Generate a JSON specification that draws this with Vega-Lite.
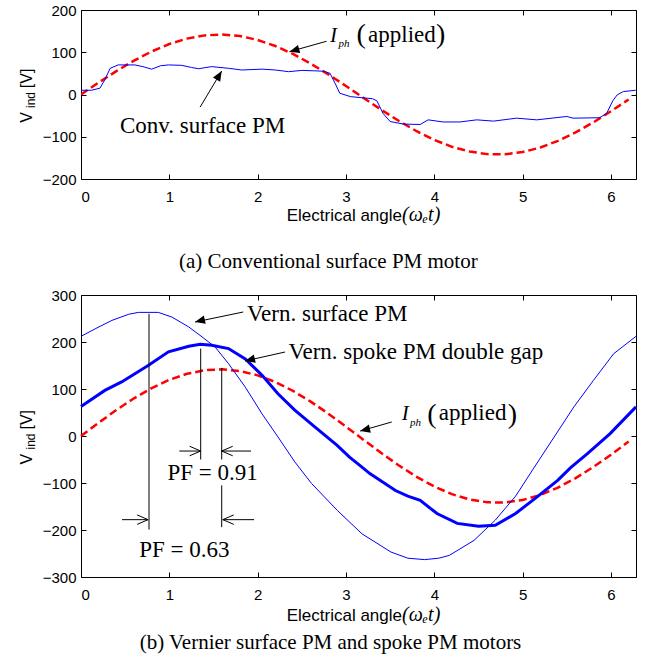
{
  "$schema": "https://vega.github.io/schema/vega-lite/v6.json",
  "background": "white",
  "padding": {"left": 18, "top": 3, "right": 5, "bottom": 0},
  "spacing": 16,
  "config": {
    "view": {"stroke": null},
    "axis": {"labelFont": "Liberation Sans", "labelFontSize": 15, "labelColor": "#000", "domainColor": "#000", "domainWidth": 1, "tickColor": "#000", "tickSize": -5, "tickWidth": 1, "grid": false}
  },
  "datasets": {
    "lines": [
      {"s":"iph","x":0,"y":0},{"s":"iph","x":0.2,"y":28.2},{"s":"iph","x":0.4,"y":55.3},{"s":"iph","x":0.6,"y":80.2},{"s":"iph","x":0.8,"y":101.9},{"s":"iph","x":1.0,"y":119.5},{"s":"iph","x":1.2,"y":132.3},{"s":"iph","x":1.4,"y":139.9},{"s":"iph","x":1.6,"y":141.9},{"s":"iph","x":1.8,"y":138.3},{"s":"iph","x":2.0,"y":129.1},{"s":"iph","x":2.2,"y":114.8},{"s":"iph","x":2.4,"y":95.9},{"s":"iph","x":2.6,"y":73.2},{"s":"iph","x":2.8,"y":47.6},{"s":"iph","x":3.0,"y":20.0},{"s":"iph","x":3.2,"y":-8.3},{"s":"iph","x":3.4,"y":-36.3},{"s":"iph","x":3.6,"y":-62.8},{"s":"iph","x":3.8,"y":-86.9},{"s":"iph","x":4.0,"y":-107.5},{"s":"iph","x":4.2,"y":-123.8},{"s":"iph","x":4.4,"y":-135.1},{"s":"iph","x":4.6,"y":-141.1},{"s":"iph","x":4.8,"y":-141.5},{"s":"iph","x":5.0,"y":-136.2},{"s":"iph","x":5.2,"y":-125.5},{"s":"iph","x":5.4,"y":-109.7},{"s":"iph","x":5.6,"y":-89.6},{"s":"iph","x":5.8,"y":-66.0},{"s":"iph","x":6.0,"y":-39.7},{"s":"iph","x":6.2,"y":-11.8},
      {"s":"conv","x":0,"y":10},{"s":"conv","x":0.12,"y":10},{"s":"conv","x":0.215,"y":15},{"s":"conv","x":0.27,"y":35},{"s":"conv","x":0.33,"y":62},{"s":"conv","x":0.42,"y":70},{"s":"conv","x":0.61,"y":70},{"s":"conv","x":0.7,"y":66},{"s":"conv","x":0.8,"y":60},{"s":"conv","x":0.9,"y":68},{"s":"conv","x":0.99,"y":70},{"s":"conv","x":1.14,"y":69},{"s":"conv","x":1.25,"y":64},{"s":"conv","x":1.33,"y":61},{"s":"conv","x":1.48,"y":66},{"s":"conv","x":1.67,"y":62},{"s":"conv","x":1.82,"y":58},{"s":"conv","x":2.05,"y":60},{"s":"conv","x":2.2,"y":58},{"s":"conv","x":2.35,"y":54},{"s":"conv","x":2.5,"y":57},{"s":"conv","x":2.65,"y":56},{"s":"conv","x":2.75,"y":55},{"s":"conv","x":2.82,"y":50},{"s":"conv","x":2.88,"y":25},{"s":"conv","x":2.93,"y":3},{"s":"conv","x":3.05,"y":-5},{"s":"conv","x":3.2,"y":-8},{"s":"conv","x":3.3,"y":-10},{"s":"conv","x":3.35,"y":-15},{"s":"conv","x":3.42,"y":-45},{"s":"conv","x":3.5,"y":-64},{"s":"conv","x":3.65,"y":-70},{"s":"conv","x":3.84,"y":-71},{"s":"conv","x":3.93,"y":-60},{"s":"conv","x":4.1,"y":-65},{"s":"conv","x":4.29,"y":-65},{"s":"conv","x":4.48,"y":-60},{"s":"conv","x":4.67,"y":-63},{"s":"conv","x":4.93,"y":-56},{"s":"conv","x":5.16,"y":-60},{"s":"conv","x":5.5,"y":-52},{"s":"conv","x":5.57,"y":-56},{"s":"conv","x":5.87,"y":-55},{"s":"conv","x":5.95,"y":-45},{"s":"conv","x":6.02,"y":-15},{"s":"conv","x":6.07,"y":-1},{"s":"conv","x":6.14,"y":7},{"s":"conv","x":6.28,"y":10},
      {"s":"surf","x":0,"y":212},{"s":"surf","x":0.16,"y":228},{"s":"surf","x":0.35,"y":246},{"s":"surf","x":0.54,"y":259},{"s":"surf","x":0.65,"y":263},{"s":"surf","x":0.875,"y":263},{"s":"surf","x":1.03,"y":253},{"s":"surf","x":1.22,"y":232},{"s":"surf","x":1.37,"y":211},{"s":"surf","x":1.52,"y":189},{"s":"surf","x":1.67,"y":154},{"s":"surf","x":1.86,"y":104},{"s":"surf","x":2.05,"y":47},{"s":"surf","x":2.23,"y":-2},{"s":"surf","x":2.42,"y":-55},{"s":"surf","x":2.61,"y":-101},{"s":"surf","x":2.9,"y":-158},{"s":"surf","x":3.18,"y":-208},{"s":"surf","x":3.51,"y":-247},{"s":"surf","x":3.7,"y":-260},{"s":"surf","x":3.89,"y":-263},{"s":"surf","x":4.05,"y":-260},{"s":"surf","x":4.17,"y":-254},{"s":"surf","x":4.45,"y":-222},{"s":"surf","x":4.69,"y":-179},{"s":"surf","x":4.92,"y":-128},{"s":"surf","x":5.12,"y":-70},{"s":"surf","x":5.35,"y":-4},{"s":"surf","x":5.58,"y":62},{"s":"surf","x":5.8,"y":118},{"s":"surf","x":6.03,"y":175},{"s":"surf","x":6.283,"y":212},
      {"s":"spoke","x":0,"y":63},{"s":"spoke","x":0.27,"y":97},{"s":"spoke","x":0.46,"y":115},{"s":"spoke","x":0.76,"y":150},{"s":"spoke","x":0.99,"y":179},{"s":"spoke","x":1.22,"y":191},{"s":"spoke","x":1.35,"y":195},{"s":"spoke","x":1.48,"y":193},{"s":"spoke","x":1.67,"y":186},{"s":"spoke","x":1.86,"y":164},{"s":"spoke","x":2.05,"y":129},{"s":"spoke","x":2.23,"y":90},{"s":"spoke","x":2.42,"y":55},{"s":"spoke","x":2.65,"y":19},{"s":"spoke","x":2.9,"y":-20},{"s":"spoke","x":3.04,"y":-45},{"s":"spoke","x":3.16,"y":-63},{"s":"spoke","x":3.27,"y":-80},{"s":"spoke","x":3.56,"y":-116},{"s":"spoke","x":3.7,"y":-128},{"s":"spoke","x":3.84,"y":-137},{"s":"spoke","x":4.03,"y":-165},{"s":"spoke","x":4.26,"y":-186},{"s":"spoke","x":4.5,"y":-192},{"s":"spoke","x":4.69,"y":-190},{"s":"spoke","x":4.92,"y":-165},{"s":"spoke","x":5.16,"y":-130},{"s":"spoke","x":5.4,"y":-94},{"s":"spoke","x":5.54,"y":-68},{"s":"spoke","x":5.73,"y":-38},{"s":"spoke","x":5.99,"y":5},{"s":"spoke","x":6.283,"y":62}
    ],
    "arrows": [
      {"p":"a","id":"conv","x":1.348,"y":-30,"x2":1.593,"y2":55.6},
      {"p":"a","id":"iphA","x":2.78,"y":126,"x2":2.36,"y2":101.4},
      {"p":"b","id":"lab","x":1.837,"y":263.8,"x2":1.291,"y2":242.5},
      {"p":"b","id":"lab","x":2.31,"y":178.7,"x2":1.857,"y2":159.6},
      {"p":"b","id":"lab","x":3.518,"y":29.8,"x2":3.16,"y2":10.6},
      {"p":"b","id":"pfR","x":1.113,"y":-32,"x2":1.355,"y2":-32},
      {"p":"b","id":"pfL","x":1.925,"y":-32,"x2":1.593,"y2":-32},
      {"p":"b","id":"pfR","x":0.465,"y":-178,"x2":0.76,"y2":-178},
      {"p":"b","id":"pfL","x":1.96,"y":-178,"x2":1.605,"y2":-178}
    ],
    "vlines": [
      {"x":0.77,"y":260,"y2":-199},
      {"x":1.355,"y":186,"y2":-50},
      {"x":1.593,"y":145,"y2":-50},
      {"x":1.593,"y":-105,"y2":-194}
    ],
    "labels": [
      {"p":"a","k":"sc","t":"Conv. surface PM","x":1.376,"y":-90},
      {"p":"a","k":"it","t":"I","x":2.82,"y":125},
      {"p":"a","k":"sub","t":"ph","x":2.914,"y":113},
      {"p":"a","k":"par","t":"(","x":3.12,"y":121},
      {"p":"a","k":"sl","t":"applied","x":3.25,"y":125},
      {"p":"a","k":"par","t":")","x":4.02,"y":121},
      {"p":"a","k":"yt","t":"V","x":-0.555,"y":-67},
      {"p":"a","k":"ysub","t":"ind","x":-0.521,"y":-32},
      {"p":"a","k":"yt","t":"[V]","x":-0.555,"y":15},
      {"p":"a","k":"xt","t":"Electrical angle","x":2.329,"y":-299},
      {"p":"a","k":"xit","t":"(ωₑt)","x":3.635,"y":-299},
      {"p":"b","k":"sl","t":"Vern. surface PM","x":1.88,"y":244},
      {"p":"b","k":"sl","t":"Vern. spoke PM double gap","x":2.348,"y":164.5},
      {"p":"b","k":"sc","t":"PF = 0.91","x":1.49,"y":-93},
      {"p":"b","k":"sc","t":"PF = 0.63","x":1.17,"y":-257},
      {"p":"b","k":"it","t":"I","x":3.63,"y":33},
      {"p":"b","k":"sub","t":"ph","x":3.726,"y":21},
      {"p":"b","k":"par","t":"(","x":3.92,"y":28},
      {"p":"b","k":"sl","t":"applied","x":4.05,"y":33},
      {"p":"b","k":"par","t":")","x":4.83,"y":28},
      {"p":"b","k":"yt","t":"V","x":-0.555,"y":-60.6},
      {"p":"b","k":"ysub","t":"ind","x":-0.521,"y":-28.7},
      {"p":"b","k":"yt","t":"[V]","x":-0.555,"y":13.8},
      {"p":"b","k":"xt","t":"Electrical angle","x":2.329,"y":-394},
      {"p":"b","k":"xit","t":"(ωₑt)","x":3.635,"y":-394}
    ]
  },
  "vconcat": [
    {
      "width": 555, "height": 169,
      "title": {"text": "(a) Conventional surface PM motor", "orient": "bottom", "font": "Liberation Serif", "fontSize": 21, "fontWeight": "normal", "color": "#000", "anchor": "middle", "frame": "bounds", "offset": 26},
      "resolve": {"axis": {"x": "independent", "y": "independent"}},
      "layer": [
        {"data": {"name": "lines"}, "transform": [{"filter": "datum.s == 'iph'"}],
         "mark": {"type": "line", "color": "#ff0000", "strokeWidth": 2.5, "strokeDash": [8, 4], "clip": true},
         "encoding": {
           "x": {"field": "x", "type": "quantitative", "scale": {"domain": [0, 6.2832], "nice": false, "zero": false}, "axis": {"orient": "bottom", "values": [0,1,2,3,4,5,6], "title": null, "labelPadding": 15}},
           "y": {"field": "y", "type": "quantitative", "scale": {"domain": [-200, 200], "nice": false}, "axis": {"orient": "left", "values": [-200,-100,0,100,200], "title": null, "labelPadding": 10}}}},
        {"data": {"name": "lines"}, "transform": [{"filter": "datum.s == 'iph'"}],
         "mark": {"type": "line", "opacity": 0},
         "encoding": {
           "x": {"field": "x", "type": "quantitative", "scale": {"domain": [0, 6.2832], "nice": false, "zero": false}, "axis": {"orient": "top", "values": [0,1,2,3,4,5,6], "title": null, "labels": false}},
           "y": {"field": "y", "type": "quantitative", "scale": {"domain": [-200, 200], "nice": false}, "axis": {"orient": "right", "values": [-200,-100,0,100,200], "title": null, "labels": false}}}},
        {"data": {"name": "lines"}, "transform": [{"filter": "datum.s == 'conv'"}],
         "mark": {"type": "line", "color": "#0000ff", "strokeWidth": 1},
         "encoding": {
           "x": {"field": "x", "type": "quantitative", "scale": {"domain": [0, 6.2832], "nice": false, "zero": false}, "axis": null},
           "y": {"field": "y", "type": "quantitative", "scale": {"domain": [-200, 200], "nice": false}, "axis": null}}},
        {"data": {"name": "arrows"}, "transform": [{"filter": "datum.p == 'a'"}],
         "mark": {"type": "rule", "color": "#000", "strokeWidth": 1},
         "encoding": {
           "x": {"field": "x", "type": "quantitative", "scale": {"domain": [0, 6.2832], "nice": false, "zero": false}, "axis": null},
           "y": {"field": "y", "type": "quantitative", "scale": {"domain": [-200, 200], "nice": false}, "axis": null},
           "x2": {"field": "x2"}, "y2": {"field": "y2"}}},
        {"data": {"name": "arrows"}, "transform": [{"filter": "datum.id == 'conv'"}],
         "mark": {"type": "point", "shape": "M0,0L-1,-0.42L-1,0.42Z", "filled": true, "color": "#000", "opacity": 1, "size": 400, "angle": 300.9},
         "encoding": {
           "x": {"field": "x2", "type": "quantitative", "scale": {"domain": [0, 6.2832], "nice": false, "zero": false}, "axis": null},
           "y": {"field": "y2", "type": "quantitative", "scale": {"domain": [-200, 200], "nice": false}, "axis": null}}},
        {"data": {"name": "arrows"}, "transform": [{"filter": "datum.id == 'iphA'"}],
         "mark": {"type": "point", "shape": "M0,0L-1,-0.42L-1,0.42Z", "filled": true, "color": "#000", "opacity": 1, "size": 400, "angle": 164.3},
         "encoding": {
           "x": {"field": "x2", "type": "quantitative", "scale": {"domain": [0, 6.2832], "nice": false, "zero": false}, "axis": null},
           "y": {"field": "y2", "type": "quantitative", "scale": {"domain": [-200, 200], "nice": false}, "axis": null}}},
        {"data": {"name": "labels"}, "transform": [{"filter": "datum.p == 'a' && datum.k == 'sc'"}],
         "mark": {"type": "text", "font": "Liberation Serif", "fontSize": 23, "align": "center", "baseline": "alphabetic", "color": "#000"},
         "encoding": {
           "x": {"field": "x", "type": "quantitative", "scale": {"domain": [0, 6.2832], "nice": false, "zero": false}, "axis": null},
           "y": {"field": "y", "type": "quantitative", "scale": {"domain": [-200, 200], "nice": false}, "axis": null},
           "text": {"field": "t"}}},
        {"data": {"name": "labels"}, "transform": [{"filter": "datum.p == 'a' && datum.k == 'sl'"}],
         "mark": {"type": "text", "font": "Liberation Serif", "fontSize": 23, "align": "left", "baseline": "alphabetic", "color": "#000"},
         "encoding": {
           "x": {"field": "x", "type": "quantitative", "scale": {"domain": [0, 6.2832], "nice": false, "zero": false}, "axis": null},
           "y": {"field": "y", "type": "quantitative", "scale": {"domain": [-200, 200], "nice": false}, "axis": null},
           "text": {"field": "t"}}},
        {"data": {"name": "labels"}, "transform": [{"filter": "datum.p == 'a' && datum.k == 'it'"}],
         "mark": {"type": "text", "font": "Liberation Serif", "fontSize": 21, "fontStyle": "italic", "align": "left", "baseline": "alphabetic", "color": "#000"},
         "encoding": {
           "x": {"field": "x", "type": "quantitative", "scale": {"domain": [0, 6.2832], "nice": false, "zero": false}, "axis": null},
           "y": {"field": "y", "type": "quantitative", "scale": {"domain": [-200, 200], "nice": false}, "axis": null},
           "text": {"field": "t"}}},
        {"data": {"name": "labels"}, "transform": [{"filter": "datum.p == 'a' && datum.k == 'sub'"}],
         "mark": {"type": "text", "font": "Liberation Serif", "fontSize": 11, "fontStyle": "italic", "align": "left", "baseline": "alphabetic", "color": "#000"},
         "encoding": {
           "x": {"field": "x", "type": "quantitative", "scale": {"domain": [0, 6.2832], "nice": false, "zero": false}, "axis": null},
           "y": {"field": "y", "type": "quantitative", "scale": {"domain": [-200, 200], "nice": false}, "axis": null},
           "text": {"field": "t"}}},
        {"data": {"name": "labels"}, "transform": [{"filter": "datum.p == 'a' && datum.k == 'par'"}],
         "mark": {"type": "text", "font": "Liberation Serif", "fontSize": 28, "align": "left", "baseline": "alphabetic", "color": "#000"},
         "encoding": {
           "x": {"field": "x", "type": "quantitative", "scale": {"domain": [0, 6.2832], "nice": false, "zero": false}, "axis": null},
           "y": {"field": "y", "type": "quantitative", "scale": {"domain": [-200, 200], "nice": false}, "axis": null},
           "text": {"field": "t"}}},
        {"data": {"name": "labels"}, "transform": [{"filter": "datum.p == 'a' && datum.k == 'yt'"}],
         "mark": {"type": "text", "font": "Liberation Sans", "fontSize": 16, "angle": 270, "align": "left", "baseline": "alphabetic", "color": "#000"},
         "encoding": {
           "x": {"field": "x", "type": "quantitative", "scale": {"domain": [0, 6.2832], "nice": false, "zero": false}, "axis": null},
           "y": {"field": "y", "type": "quantitative", "scale": {"domain": [-200, 200], "nice": false}, "axis": null},
           "text": {"field": "t"}}},
        {"data": {"name": "labels"}, "transform": [{"filter": "datum.p == 'a' && datum.k == 'ysub'"}],
         "mark": {"type": "text", "font": "Liberation Sans", "fontSize": 12, "angle": 270, "align": "left", "baseline": "alphabetic", "color": "#000"},
         "encoding": {
           "x": {"field": "x", "type": "quantitative", "scale": {"domain": [0, 6.2832], "nice": false, "zero": false}, "axis": null},
           "y": {"field": "y", "type": "quantitative", "scale": {"domain": [-200, 200], "nice": false}, "axis": null},
           "text": {"field": "t"}}},
        {"data": {"name": "labels"}, "transform": [{"filter": "datum.p == 'a' && datum.k == 'xt'"}],
         "mark": {"type": "text", "font": "Liberation Sans", "fontSize": 17, "align": "left", "baseline": "alphabetic", "color": "#000"},
         "encoding": {
           "x": {"field": "x", "type": "quantitative", "scale": {"domain": [0, 6.2832], "nice": false, "zero": false}, "axis": null},
           "y": {"field": "y", "type": "quantitative", "scale": {"domain": [-200, 200], "nice": false}, "axis": null},
           "text": {"field": "t"}}},
        {"data": {"name": "labels"}, "transform": [{"filter": "datum.p == 'a' && datum.k == 'xit'"}],
         "mark": {"type": "text", "font": "Liberation Serif", "fontSize": 20, "fontStyle": "italic", "align": "left", "baseline": "alphabetic", "color": "#000"},
         "encoding": {
           "x": {"field": "x", "type": "quantitative", "scale": {"domain": [0, 6.2832], "nice": false, "zero": false}, "axis": null},
           "y": {"field": "y", "type": "quantitative", "scale": {"domain": [-200, 200], "nice": false}, "axis": null},
           "text": {"field": "t"}}}
      ]
    },
    {
      "width": 555, "height": 282,
      "title": {"text": "(b) Vernier surface PM and spoke PM motors", "orient": "bottom", "font": "Liberation Serif", "fontSize": 21, "fontWeight": "normal", "color": "#000", "anchor": "middle", "frame": "bounds", "offset": 7},
      "resolve": {"axis": {"x": "independent", "y": "independent"}},
      "layer": [
        {"data": {"name": "lines"}, "transform": [{"filter": "datum.s == 'iph'"}],
         "mark": {"type": "line", "color": "#ff0000", "strokeWidth": 2.5, "strokeDash": [8, 4]},
         "encoding": {
           "x": {"field": "x", "type": "quantitative", "scale": {"domain": [0, 6.2832], "nice": false, "zero": false}, "axis": {"orient": "bottom", "values": [0,1,2,3,4,5,6], "title": null, "labelPadding": 15}},
           "y": {"field": "y", "type": "quantitative", "scale": {"domain": [-300, 300], "nice": false}, "axis": {"orient": "left", "values": [-300,-200,-100,0,100,200,300], "title": null, "labelPadding": 10}}}},
        {"data": {"name": "lines"}, "transform": [{"filter": "datum.s == 'iph'"}],
         "mark": {"type": "line", "opacity": 0},
         "encoding": {
           "x": {"field": "x", "type": "quantitative", "scale": {"domain": [0, 6.2832], "nice": false, "zero": false}, "axis": {"orient": "top", "values": [0,1,2,3,4,5,6], "title": null, "labels": false}},
           "y": {"field": "y", "type": "quantitative", "scale": {"domain": [-300, 300], "nice": false}, "axis": {"orient": "right", "values": [-300,-200,-100,0,100,200,300], "title": null, "labels": false}}}},
        {"data": {"name": "lines"}, "transform": [{"filter": "datum.s == 'surf'"}],
         "mark": {"type": "line", "color": "#0000ff", "strokeWidth": 1},
         "encoding": {
           "x": {"field": "x", "type": "quantitative", "scale": {"domain": [0, 6.2832], "nice": false, "zero": false}, "axis": null},
           "y": {"field": "y", "type": "quantitative", "scale": {"domain": [-300, 300], "nice": false}, "axis": null}}},
        {"data": {"name": "lines"}, "transform": [{"filter": "datum.s == 'spoke'"}],
         "mark": {"type": "line", "color": "#0000ff", "strokeWidth": 3},
         "encoding": {
           "x": {"field": "x", "type": "quantitative", "scale": {"domain": [0, 6.2832], "nice": false, "zero": false}, "axis": null},
           "y": {"field": "y", "type": "quantitative", "scale": {"domain": [-300, 300], "nice": false}, "axis": null}}},
        {"data": {"name": "vlines"},
         "mark": {"type": "rule", "color": "#000", "strokeWidth": 1},
         "encoding": {
           "x": {"field": "x", "type": "quantitative", "scale": {"domain": [0, 6.2832], "nice": false, "zero": false}, "axis": null},
           "y": {"field": "y", "type": "quantitative", "scale": {"domain": [-300, 300], "nice": false}, "axis": null},
           "y2": {"field": "y2"}}},
        {"data": {"name": "arrows"}, "transform": [{"filter": "datum.p == 'b'"}],
         "mark": {"type": "rule", "color": "#000", "strokeWidth": 1},
         "encoding": {
           "x": {"field": "x", "type": "quantitative", "scale": {"domain": [0, 6.2832], "nice": false, "zero": false}, "axis": null},
           "y": {"field": "y", "type": "quantitative", "scale": {"domain": [-300, 300], "nice": false}, "axis": null},
           "x2": {"field": "x2"}, "y2": {"field": "y2"}}},
        {"data": {"name": "arrows"}, "transform": [{"filter": "datum.id == 'lab'"}],
         "mark": {"type": "point", "shape": "M0,0L-1,-0.42L-1,0.42Z", "filled": true, "color": "#000", "opacity": 1, "size": 400, "angle": 166.5},
         "encoding": {
           "x": {"field": "x2", "type": "quantitative", "scale": {"domain": [0, 6.2832], "nice": false, "zero": false}, "axis": null},
           "y": {"field": "y2", "type": "quantitative", "scale": {"domain": [-300, 300], "nice": false}, "axis": null}}},
        {"data": {"name": "arrows"}, "transform": [{"filter": "datum.id == 'pfR'"}],
         "mark": {"type": "point", "shape": "M-1,-0.43L0,0L-1,0.43", "filled": false, "color": "#000", "strokeWidth": 1, "opacity": 1, "size": 484, "angle": 0},
         "encoding": {
           "x": {"field": "x2", "type": "quantitative", "scale": {"domain": [0, 6.2832], "nice": false, "zero": false}, "axis": null},
           "y": {"field": "y2", "type": "quantitative", "scale": {"domain": [-300, 300], "nice": false}, "axis": null}}},
        {"data": {"name": "arrows"}, "transform": [{"filter": "datum.id == 'pfL'"}],
         "mark": {"type": "point", "shape": "M-1,-0.43L0,0L-1,0.43", "filled": false, "color": "#000", "strokeWidth": 1, "opacity": 1, "size": 484, "angle": 180},
         "encoding": {
           "x": {"field": "x2", "type": "quantitative", "scale": {"domain": [0, 6.2832], "nice": false, "zero": false}, "axis": null},
           "y": {"field": "y2", "type": "quantitative", "scale": {"domain": [-300, 300], "nice": false}, "axis": null}}},
        {"data": {"name": "labels"}, "transform": [{"filter": "datum.p == 'b' && datum.k == 'sc'"}],
         "mark": {"type": "text", "font": "Liberation Serif", "fontSize": 23, "align": "center", "baseline": "alphabetic", "color": "#000"},
         "encoding": {
           "x": {"field": "x", "type": "quantitative", "scale": {"domain": [0, 6.2832], "nice": false, "zero": false}, "axis": null},
           "y": {"field": "y", "type": "quantitative", "scale": {"domain": [-300, 300], "nice": false}, "axis": null},
           "text": {"field": "t"}}},
        {"data": {"name": "labels"}, "transform": [{"filter": "datum.p == 'b' && datum.k == 'sl'"}],
         "mark": {"type": "text", "font": "Liberation Serif", "fontSize": 23, "align": "left", "baseline": "alphabetic", "color": "#000"},
         "encoding": {
           "x": {"field": "x", "type": "quantitative", "scale": {"domain": [0, 6.2832], "nice": false, "zero": false}, "axis": null},
           "y": {"field": "y", "type": "quantitative", "scale": {"domain": [-300, 300], "nice": false}, "axis": null},
           "text": {"field": "t"}}},
        {"data": {"name": "labels"}, "transform": [{"filter": "datum.p == 'b' && datum.k == 'it'"}],
         "mark": {"type": "text", "font": "Liberation Serif", "fontSize": 21, "fontStyle": "italic", "align": "left", "baseline": "alphabetic", "color": "#000"},
         "encoding": {
           "x": {"field": "x", "type": "quantitative", "scale": {"domain": [0, 6.2832], "nice": false, "zero": false}, "axis": null},
           "y": {"field": "y", "type": "quantitative", "scale": {"domain": [-300, 300], "nice": false}, "axis": null},
           "text": {"field": "t"}}},
        {"data": {"name": "labels"}, "transform": [{"filter": "datum.p == 'b' && datum.k == 'sub'"}],
         "mark": {"type": "text", "font": "Liberation Serif", "fontSize": 11, "fontStyle": "italic", "align": "left", "baseline": "alphabetic", "color": "#000"},
         "encoding": {
           "x": {"field": "x", "type": "quantitative", "scale": {"domain": [0, 6.2832], "nice": false, "zero": false}, "axis": null},
           "y": {"field": "y", "type": "quantitative", "scale": {"domain": [-300, 300], "nice": false}, "axis": null},
           "text": {"field": "t"}}},
        {"data": {"name": "labels"}, "transform": [{"filter": "datum.p == 'b' && datum.k == 'par'"}],
         "mark": {"type": "text", "font": "Liberation Serif", "fontSize": 28, "align": "left", "baseline": "alphabetic", "color": "#000"},
         "encoding": {
           "x": {"field": "x", "type": "quantitative", "scale": {"domain": [0, 6.2832], "nice": false, "zero": false}, "axis": null},
           "y": {"field": "y", "type": "quantitative", "scale": {"domain": [-300, 300], "nice": false}, "axis": null},
           "text": {"field": "t"}}},
        {"data": {"name": "labels"}, "transform": [{"filter": "datum.p == 'b' && datum.k == 'yt'"}],
         "mark": {"type": "text", "font": "Liberation Sans", "fontSize": 16, "angle": 270, "align": "left", "baseline": "alphabetic", "color": "#000"},
         "encoding": {
           "x": {"field": "x", "type": "quantitative", "scale": {"domain": [0, 6.2832], "nice": false, "zero": false}, "axis": null},
           "y": {"field": "y", "type": "quantitative", "scale": {"domain": [-300, 300], "nice": false}, "axis": null},
           "text": {"field": "t"}}},
        {"data": {"name": "labels"}, "transform": [{"filter": "datum.p == 'b' && datum.k == 'ysub'"}],
         "mark": {"type": "text", "font": "Liberation Sans", "fontSize": 12, "angle": 270, "align": "left", "baseline": "alphabetic", "color": "#000"},
         "encoding": {
           "x": {"field": "x", "type": "quantitative", "scale": {"domain": [0, 6.2832], "nice": false, "zero": false}, "axis": null},
           "y": {"field": "y", "type": "quantitative", "scale": {"domain": [-300, 300], "nice": false}, "axis": null},
           "text": {"field": "t"}}},
        {"data": {"name": "labels"}, "transform": [{"filter": "datum.p == 'b' && datum.k == 'xt'"}],
         "mark": {"type": "text", "font": "Liberation Sans", "fontSize": 17, "align": "left", "baseline": "alphabetic", "color": "#000"},
         "encoding": {
           "x": {"field": "x", "type": "quantitative", "scale": {"domain": [0, 6.2832], "nice": false, "zero": false}, "axis": null},
           "y": {"field": "y", "type": "quantitative", "scale": {"domain": [-300, 300], "nice": false}, "axis": null},
           "text": {"field": "t"}}},
        {"data": {"name": "labels"}, "transform": [{"filter": "datum.p == 'b' && datum.k == 'xit'"}],
         "mark": {"type": "text", "font": "Liberation Serif", "fontSize": 20, "fontStyle": "italic", "align": "left", "baseline": "alphabetic", "color": "#000"},
         "encoding": {
           "x": {"field": "x", "type": "quantitative", "scale": {"domain": [0, 6.2832], "nice": false, "zero": false}, "axis": null},
           "y": {"field": "y", "type": "quantitative", "scale": {"domain": [-300, 300], "nice": false}, "axis": null},
           "text": {"field": "t"}}}
      ]
    }
  ]
}
